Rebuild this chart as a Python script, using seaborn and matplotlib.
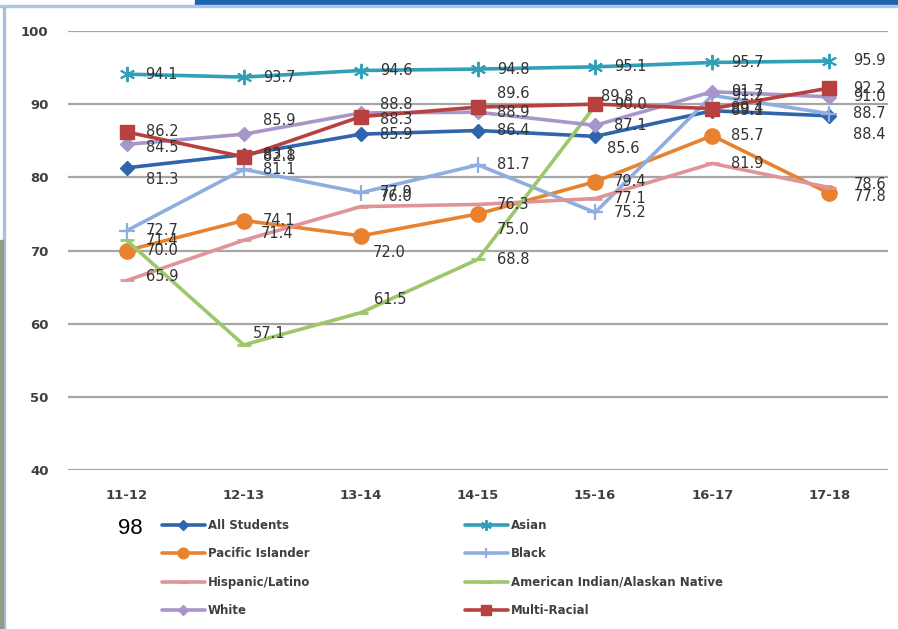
import numpy as np
import pandas as pd
import matplotlib
matplotlib.use("Agg")
import matplotlib.pyplot as plt
from matplotlib.patches import Rectangle
from matplotlib.lines import Line2D
import seaborn as sns

# ---- data ----
years = ["11-12", "12-13", "13-14", "14-15", "15-16", "16-17", "17-18"]
all_students = [81.3, 83.1, 85.9, 86.4, 85.6, 89.1, 88.4]
asian = [94.1, 93.7, 94.6, 94.8, 95.1, 95.7, 95.9]
pacific_islander = [70.0, 74.1, 72.0, 75.0, 79.4, 85.7, 77.8]
black = [72.7, 81.1, 77.9, 81.7, 75.2, 91.2, 88.7]
hispanic = [65.9, 71.4, 76.0, 76.3, 77.1, 81.9, 78.6]
american_indian = [71.4, 57.1, 61.5, 68.8, 89.8, np.nan, np.nan]
white = [84.5, 85.9, 88.8, 88.9, 87.1, 91.7, 91.0]
multi_racial = [86.2, 82.8, 88.3, 89.6, 90.0, 89.4, 92.2]
y_ticks = [40, 50, 60, 70, 80, 90, 100]

series = {
    "All Students": all_students,
    "Asian": asian,
    "Pacific Islander": pacific_islander,
    "Black": black,
    "Hispanic/Latino": hispanic,
    "American Indian/Alaskan Native": american_indian,
    "White": white,
    "Multi-Racial": multi_racial,
}

# ---- styles ----
styles = {
    "All Students": dict(color="#2F65AC", marker="D", ms=7, mew=1),
    "Asian": dict(color="#2FA0B8", marker=(6, 2, 0), ms=11, mew=1.4),
    "Pacific Islander": dict(color="#E8822F", marker="o", ms=11, mew=1),
    "Black": dict(color="#8EAEE0", marker="+", ms=11, mew=1.6),
    "Hispanic/Latino": dict(color="#DF9497", marker="_", ms=10, mew=2),
    "American Indian/Alaskan Native": dict(color="#9DC76B", marker="_", ms=10, mew=2),
    "White": dict(color="#A895CA", marker="D", ms=7, mew=1),
    "Multi-Racial": dict(color="#B8403F", marker="s", ms=10, mew=1),
}

# label offsets in pixels (dx, dy) for labels not placed right of the point
label_adjust = {
    ("All Students", 0): (19, -12),
    ("All Students", 4): (12, -12),
    ("All Students", 6): (24, -19),
    ("White", 0): (19, -3),
    ("White", 1): (19, 14),
    ("White", 2): (19, 8),
    ("Multi-Racial", 2): (19, -3),
    ("Multi-Racial", 3): (19, 14),
    ("American Indian/Alaskan Native", 4): (6, 9),
    ("Hispanic/Latino", 2): (19, 10),
    ("Hispanic/Latino", 1): (17, 7),
    ("Hispanic/Latino", 0): (19, 4),
    ("Hispanic/Latino", 6): (24, 3),
    ("Pacific Islander", 6): (24, -3),
    ("American Indian/Alaskan Native", 1): (9, 11),
    ("American Indian/Alaskan Native", 2): (13, 13),
    ("Pacific Islander", 2): (12, -17),
    ("Pacific Islander", 3): (19, -16),
}

sns.set_theme(style="white")
plt.rcParams["font.family"] = ["DejaVu Sans"]

fig = plt.figure(figsize=(8.98, 6.29), dpi=100)
ax = fig.add_axes([68 / 898, 1 - 470 / 629, 820 / 898, 439 / 629])

px2pt = 72 / 100.0
for name, vals in series.items():
    st = styles[name]
    df = pd.DataFrame({"year": years, "value": vals})
    sns.lineplot(data=df, x="year", y="value", ax=ax, color=st["color"],
                 marker=st["marker"], markersize=st["ms"], markeredgewidth=st["mew"],
                 markeredgecolor=st["color"], linewidth=2.6, sort=False)
    for i, v in enumerate(vals):
        if np.isnan(v):
            continue
        dx, dy = label_adjust.get((name, i), (24 if i == 6 else 19, 0))
        ax.annotate(f"{v:.1f}", xy=(i, v), xytext=(dx * px2pt, dy * px2pt),
                    textcoords="offset points", ha="left", va="center",
                    fontsize=10.5, color="#333333")

ax.set_xlim(-0.5, 6.5)
ax.set_ylim(40, 100)
ax.set_yticks(y_ticks)
ax.set_xticks(range(len(years)))
ax.set_xticklabels(years)
ax.set_xlabel("")
ax.set_ylabel("")
ax.grid(axis="y", color="#A6A6A6", linewidth=1.6)
ax.grid(axis="x", visible=False)
ax.set_axisbelow(True)
for s in ax.spines.values():
    s.set_visible(False)
ax.tick_params(axis="y", length=0, pad=14, labelsize=9.5, labelcolor="#404040")
ax.tick_params(axis="x", length=0, pad=14, labelsize=9.5, labelcolor="#404040")
for lab in ax.get_xticklabels() + ax.get_yticklabels():
    lab.set_fontweight("bold")

# legend (row-major order in reference: fill columns accordingly)
order = ["All Students", "Pacific Islander", "Hispanic/Latino", "White",
         "Asian", "Black", "American Indian/Alaskan Native", "Multi-Racial"]
handles = []
for name in order:
    st = styles[name]
    ms = st["ms"] * 0.7
    handles.append(Line2D([], [], color=st["color"], marker=st["marker"], markersize=ms,
                          markeredgewidth=st["mew"], markeredgecolor=st["color"], linewidth=2.6))
leg = fig.legend(handles, order, ncol=2, loc="upper left",
                 bbox_to_anchor=(162 / 898, 1 - 519 / 629), frameon=False,
                 fontsize=8.5, handlelength=3.6, handletextpad=0.3,
                 columnspacing=13.1, labelspacing=1.3, borderpad=0, borderaxespad=0)
for t in leg.get_texts():
    t.set_color("#404040")
    t.set_fontweight("bold")

fig.text(130 / 898, 1 - 528 / 629, "98", fontsize=16, color="black",
         ha="center", va="center", family=["Liberation Sans", "DejaVu Sans"])

# decorative frame remnants of the screenshot
fig.patches.append(Rectangle((195 / 898, 1 - 5 / 629), 703 / 898, 5 / 629,
                             transform=fig.transFigure, color="#1F63AE", zorder=0))
fig.patches.append(Rectangle((0, 1 - 7 / 629), 1, 2 / 629,
                             transform=fig.transFigure, color="#A9C8E8", zorder=0))
fig.patches.append(Rectangle((3 / 898, 0), 1.5 / 898, 1 - 7 / 629,
                             transform=fig.transFigure, color="#A9BFD8", zorder=0))
fig.patches.append(Rectangle((0, 0), 3 / 898, 1 - 240 / 629,
                             transform=fig.transFigure, color="#8E9C86", zorder=0))

fig.savefig("out.png", dpi=100)
